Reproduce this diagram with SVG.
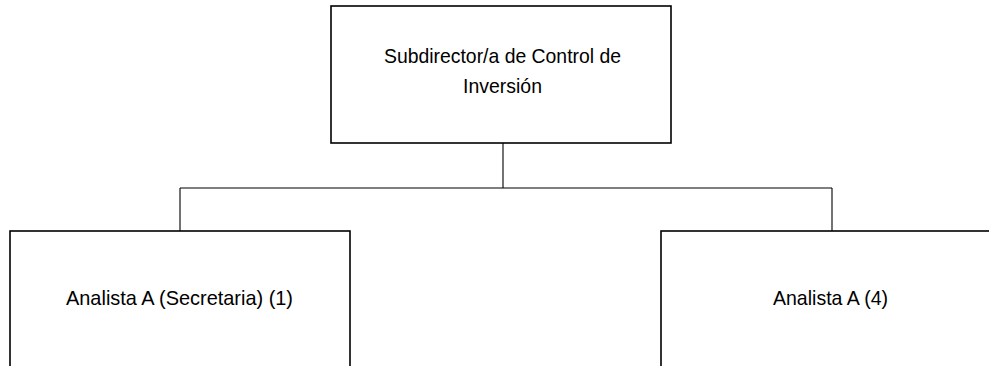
<svg xmlns="http://www.w3.org/2000/svg" width="989" height="366" viewBox="0 0 989 366">
<style>
.box{fill:#fff;stroke:#000;stroke-width:1.6}
.conn{fill:none;stroke:#000;stroke-width:1.1}
.t{font-family:"Liberation Sans",Arial,sans-serif;font-size:21px;fill:#000;text-anchor:middle}
</style>
<rect width="989" height="366" fill="#fff"/>
<g id="connectors">
<path class="conn" d="M503 143V188M180 188H832M180 188V233M832 188V231"/>
</g>
<g id="subdirector">
<rect class="box" x="331" y="6" width="340" height="137"/>
<text class="t" x="502.5" y="63" textLength="237" lengthAdjust="spacingAndGlyphs">Subdirector/a de Control de</text>
<text class="t" x="502.5" y="93" textLength="79" lengthAdjust="spacingAndGlyphs">Inversión</text>
</g>
<g id="analista-secretaria">
<rect class="box" x="10" y="231" width="340" height="150"/>
<text class="t" x="179.5" y="305" textLength="227" lengthAdjust="spacingAndGlyphs">Analista A (Secretaria) (1)</text>
</g>
<g id="analista-4">
<rect class="box" x="661" y="231" width="340" height="150"/>
<text class="t" x="830.5" y="305" textLength="115" lengthAdjust="spacingAndGlyphs">Analista A (4)</text>
</g>
</svg>
